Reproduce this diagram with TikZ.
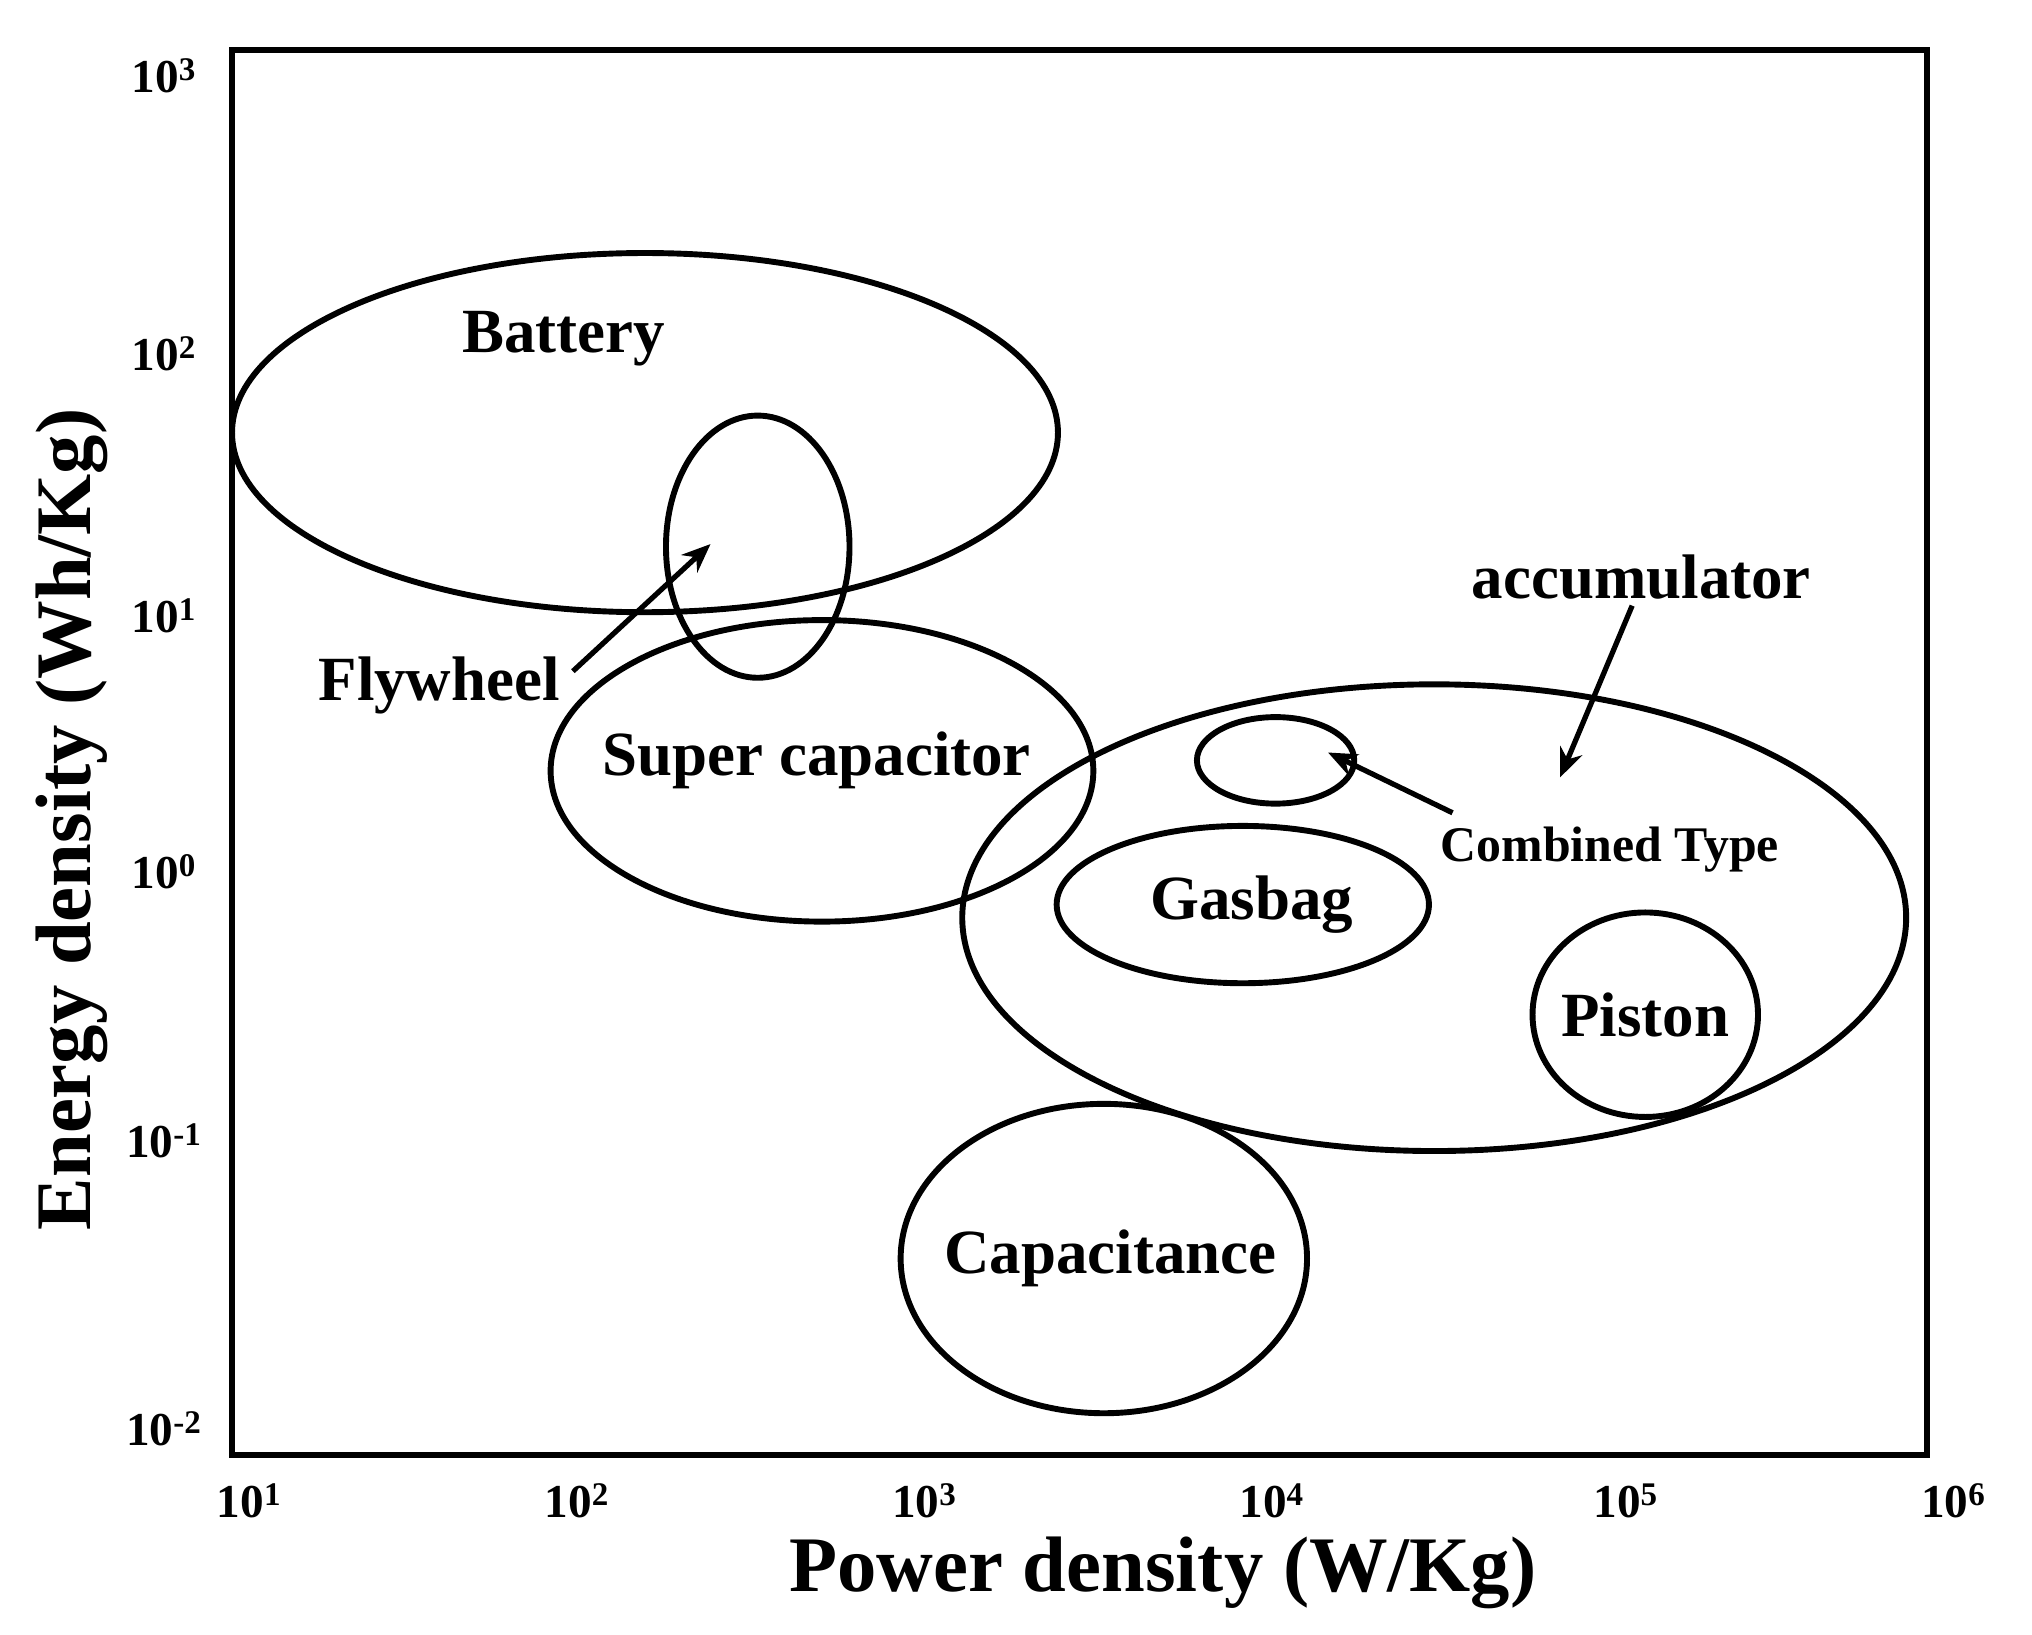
\documentclass[tikz,border=0pt]{standalone}
\usepackage{fontspec}
\setmainfont{Liberation Serif}
\usetikzlibrary{arrows.meta}
\begin{document}
\begin{tikzpicture}[x=1pt,y=-1pt,
  ln/.style={line width=4.5pt},
  lab/.style={font=\fontsize{48}{50}\selectfont\bfseries},
  tk/.style={font=\fontsize{36}{38}\selectfont\bfseries},
  arr/.style={line width=4pt,-{Stealth[length=22pt,width=18pt]}}]
\useasboundingbox (0,0) rectangle (1550,1247);
\draw[ln] (177,38) rectangle (1470,1110);
\node[tk] (x1) at (190,1145) {10\textsuperscript{1}};
\node[tk] (x2) at (440,1145) {10\textsuperscript{2}};
\node[tk] (x3) at (705,1145) {10\textsuperscript{3}};
\node[tk] (x4) at (970,1145) {10\textsuperscript{4}};
\node[tk] (x5) at (1240,1145) {10\textsuperscript{5}};
\node[tk] (x6) at (1490,1145) {10\textsuperscript{6}};
\node[tk] (y3) at (125,58) {10\textsuperscript{3}};
\node[tk] (y2) at (125,270) {10\textsuperscript{2}};
\node[tk] (y1) at (125,470) {10\textsuperscript{1}};
\node[tk] (y0) at (125,665) {10\textsuperscript{0}};
\node[tk] (ym1) at (125,870) {10\textsuperscript{-1}};
\node[tk] (ym2) at (125,1090) {10\textsuperscript{-2}};
\node[font=\fontsize{60}{62}\selectfont\bfseries] (xt) at (887,1200) {Power density (W/Kg)};
\node[font=\fontsize{60}{62}\selectfont\bfseries,rotate=90] (yt) at (55,625) {Energy density (Wh/Kg)};
\draw[ln] (492,330) ellipse [x radius=315,y radius=137];
\draw[ln] (578,417) ellipse [x radius=70,y radius=100];
\draw[ln] (627,588) ellipse [x radius=207,y radius=115];
\draw[ln] (1094,700) ellipse [x radius=360,y radius=178];
\draw[ln] (973,580) ellipse [x radius=60,y radius=33];
\draw[ln] (948,690) ellipse [x radius=142,y radius=60];
\draw[ln] (1255,774) ellipse [x radius=86,y radius=78];
\draw[ln] (842,960) ellipse [x radius=155,y radius=118];
\node[lab] (bat) at (430,258) {Battery};
\node[lab] (fly) at (335,523) {Flywheel};
\node[lab] (sup) at (623,580) {Super capacitor};
\node[lab] (acc) at (1252,440) {accumulator};
\node[font=\fontsize{38}{40}\selectfont\bfseries] (com) at (1228,648) {Combined Type};
\node[lab] (gas) at (955,690) {Gasbag};
\node[lab] (pis) at (1255,774) {Piston};
\node[lab] (cap) at (847,960) {Capacitance};
\coordinate (fa) at (437,512); \coordinate (fb) at (542,415);
\coordinate (aa) at (1245,462); \coordinate (ab) at (1190,593);
\coordinate (ca) at (1108,620); \coordinate (cb) at (1013,574);
\draw[arr] (fa) -- (fb);
\draw[arr] (aa) -- (ab);
\draw[arr] (ca) -- (cb);
\end{tikzpicture}
\end{document}
